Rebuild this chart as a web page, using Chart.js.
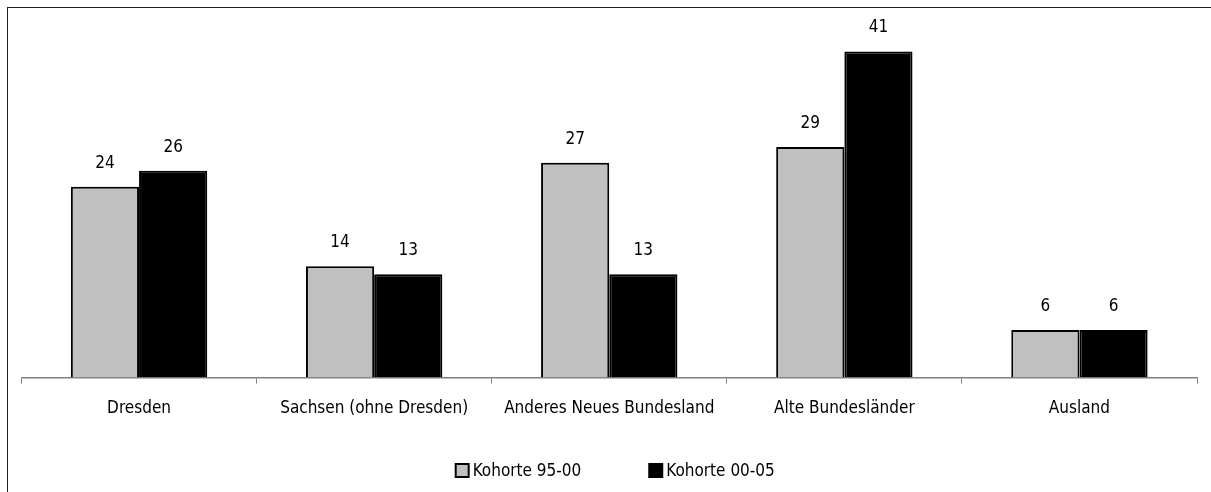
<!DOCTYPE html>
<html>
<head>
<meta charset="utf-8">
<script src="https://cdn.jsdelivr.net/npm/chart.js@4/dist/chart.umd.min.js"></script>
<style>
  body { margin: 0; background: #fff; }
  #rahmen { position: absolute; left: 7px; top: 7px; width: 1212px; height: 490px; border: 1.5px solid #222; box-sizing: border-box; }
  #rahmen canvas { display: block; }
</style>
</head>
<body>
<div id="rahmen"><canvas id="grafik" width="1209" height="487"></canvas></div>
<script>
const regionen = ['Dresden', 'Sachsen (ohne Dresden)', 'Anderes Neues Bundesland', 'Alte Bundesländer', 'Ausland'];
const kohorte9500 = [24, 14, 27, 29, 6];
const kohorte0005 = [26, 13, 13, 41, 6];
const schrift = "'DejaVu Sans Condensed', 'Liberation Sans Narrow', sans-serif";

// Zahlen über die Balken schreiben
const werteBeschriften = {
    id: 'werteBeschriften',
    afterDatasetsDraw(chart) {
        const ctx = chart.ctx;
        ctx.save();
        ctx.font = '17px ' + schrift;
        ctx.fillStyle = '#000';
        ctx.textAlign = 'center';
        ctx.textBaseline = 'bottom';
        chart.data.datasets.forEach((ds, i) => {
            chart.getDatasetMeta(i).data.forEach((bar, j) => {
                ctx.fillText(ds.data[j], bar.x, bar.y - 15);
            });
        });
        ctx.restore();
    }
};

// eigene Legende unten (größerer Abstand zwischen den Einträgen)
const legendeUnten = {
    id: 'legendeUnten',
    afterDraw(chart) {
        const ctx = chart.ctx;
        const ds = chart.data.datasets;
        ctx.save();
        ctx.font = '17px ' + schrift;
        const box = 13, luecke = 4, abstand = 68;
        const breiten = ds.map(d => box + luecke + ctx.measureText(d.label).width);
        const gesamt = breiten.reduce((a, b) => a + b, 0) + abstand * (ds.length - 1);
        let x = (chart.chartArea.left + chart.chartArea.right) / 2 + 6 - gesamt / 2;
        const y = 462.5;
        ds.forEach((d, i) => {
            ctx.fillStyle = d.backgroundColor;
            ctx.strokeStyle = '#000';
            ctx.lineWidth = 2;
            ctx.fillRect(x, y - box / 2, box, box);
            ctx.strokeRect(x, y - box / 2, box, box);
            ctx.fillStyle = '#000';
            ctx.textBaseline = 'middle';
            ctx.textAlign = 'left';
            ctx.fillText(d.label, x + box + luecke, y + 1);
            x += breiten[i] + abstand;
        });
        ctx.restore();
    }
};

new Chart(document.getElementById('grafik'), {
    type: 'bar',
    data: {
        labels: regionen,
        datasets: [
            { label: 'Kohorte 95-00', data: kohorte9500, backgroundColor: '#c0c0c0', borderColor: '#000', borderWidth: 2 },
            { label: 'Kohorte 00-05', data: kohorte0005, backgroundColor: '#000', borderColor: '#000', borderWidth: 2 }
        ]
    },
    options: {
        responsive: false,
        animation: false,
        datasets: { bar: { categoryPercentage: 0.58, barPercentage: 1.0 } },
        layout: { padding: { left: 13.5, right: 20, top: 11.7, bottom: 61 } },
        plugins: {
            legend: { display: false },
            tooltip: { enabled: false }
        },
        scales: {
            y: { display: false, min: 0, max: 45 },
            x: {
                grid: { drawOnChartArea: false, offset: true, color: '#808080', tickLength: 6 },
                border: { color: '#808080', width: 1.5 },
                ticks: { font: { size: 17, family: schrift }, color: '#000', padding: 15, maxRotation: 0 }
            }
        }
    },
    plugins: [werteBeschriften, legendeUnten]
});
</script>
</body>
</html>
